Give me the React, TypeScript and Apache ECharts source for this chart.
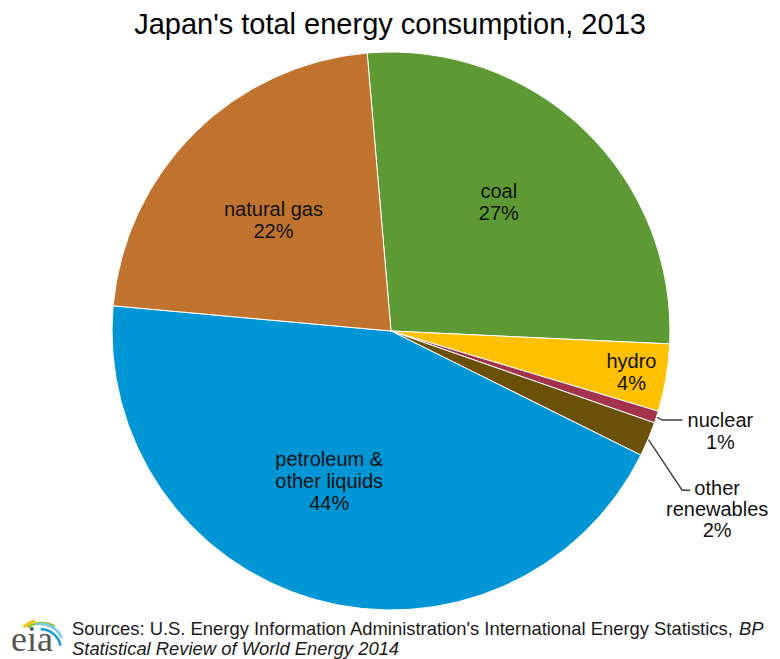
import { useEffect, useRef } from "react";
import * as echarts from "echarts";

// ---- data ----
const categories = ["coal", "hydro", "nuclear", "other renewables", "petroleum & other liquids", "natural gas"];
const labelTexts = ["coal", "hydro", "nuclear", "other\nrenewables", "petroleum &\nother liquids", "natural gas"];
const shares = [27.1, 3.9, 0.7, 2.0, 44.1, 22.2];
const colors = ["#5E9A33", "#FFC000", "#A3334A", "#6B500A", "#0096D6", "#BF732F"];
const titleText = "Japan's total energy consumption, 2013";
const sourceLine1 = "Sources: U.S. Energy Information Administration's International Energy Statistics, ";
const sourceLine1Italic = "BP";
const sourceLine2 = "Statistical Review of World Energy 2014";

// ---- layout ----
const CX = 391;
const CY = 331;
const R = 279;
const START = 94.9;
const OUTER = [2, 3];
// nudges for inside labels (dx, dy)
const insideNudge: Record<number, [number, number]> = {
  0: [9, -26],
  1: [100, 17],
  4: [-23, 13],
  5: [-17, -10],
};

const FONT = "'Liberation Sans', Arial, sans-serif";

export default function App() {
  const ref = useRef<HTMLDivElement>(null);
  useEffect(() => {
    document.body.style.margin = "0";
    if (!ref.current) return;
    const chart = echarts.init(ref.current, null, { renderer: "svg" });
    const option: any = {
      animation: false,
      backgroundColor: "#ffffff",
      title: {
        text: titleText,
        left: "center",
        top: 4,
        textStyle: { fontSize: 29, fontWeight: "normal", color: "#000", fontFamily: FONT },
      },
      series: [
        {
          type: "pie",
          center: [CX, CY],
          radius: R,
          startAngle: START,
          clockwise: true,
          silent: true,
          avoidLabelOverlap: false,
          emphasis: { disabled: true },
          itemStyle: { borderColor: "#ffffff", borderWidth: 1 },
          label: {
            show: true,
            position: "inside",
            formatter: (p: any) => `${labelTexts[p.dataIndex]}\n${Math.round(p.value)}%`,
            fontSize: 20,
            lineHeight: 22,
            color: "#111",
            fontFamily: FONT,
          },
          labelLine: { show: false },
          labelLayout: (params: any) => {
            const i = params.dataIndex;
            if (OUTER.indexOf(i) >= 0) {
              const pts = params.labelLinePoints;
              const p0 = pts && pts[0] ? pts[0] : [params.labelRect.x, params.labelRect.y];
              if (i === 2) {
                return {
                  x: p0[0] + 64,
                  y: p0[1] + 13.5,
                  align: "center",
                  verticalAlign: "middle",
                  labelLinePoints: [
                    [p0[0], p0[1]],
                    [p0[0] + 6, p0[1] + 3],
                    [p0[0] + 26, p0[1] + 3],
                  ],
                };
              }
              return {
                x: p0[0] + 69,
                y: p0[1] + 70,
                align: "center",
                verticalAlign: "middle",
                labelLinePoints: [
                  [p0[0], p0[1]],
                  [p0[0] + 34, p0[1] + 51],
                  [p0[0] + 42, p0[1] + 51],
                ],
              };
            }
            const n = insideNudge[i] || [0, 0];
            return { dx: n[0], dy: n[1] };
          },
          data: categories.map((name, i) => {
            const item: any = { name, value: shares[i], itemStyle: { color: colors[i] } };
            if (OUTER.indexOf(i) >= 0) {
              item.label = { position: "outside", lineHeight: i === 3 ? 21 : 22 };
              item.labelLine = {
                show: true,
                length: 5,
                length2: 20,
                lineStyle: { color: "#404040", width: 1.4 },
              };
            }
            return item;
          }),
        },
      ],
      graphic: [
        {
          type: "text",
          left: 72,
          top: 619,
          style: {
            text: `{n|${sourceLine1}}{i|${sourceLine1Italic}}\n{i|${sourceLine2}}`,
            rich: {
              n: { fontSize: 18.4, lineHeight: 20, fontFamily: FONT, fill: "#1a1a1a" },
              i: { fontSize: 18.4, lineHeight: 20, fontFamily: FONT, fontStyle: "italic", fill: "#1a1a1a" },
            },
          },
        },
        {
          type: "text",
          x: 11,
          y: 639,
          style: {
            text: "eia",
            fontSize: 36,
            lineHeight: 36,
            fontFamily: "'Liberation Serif', 'DejaVu Serif', serif",
            fill: "#555555",
            verticalAlign: "middle",
            align: "left",
          },
        },
        {
          type: "arc",
          shape: { cx: 42, cy: 648, r: 28, startAngle: (-132 * Math.PI) / 180, endAngle: (-104 * Math.PI) / 180, clockwise: true },
          style: { stroke: "#F3C300", lineWidth: 2.5, fill: "none" },
        },
        {
          type: "arc",
          shape: { cx: 42, cy: 650, r: 27, startAngle: (-122 * Math.PI) / 180, endAngle: (-62 * Math.PI) / 180, clockwise: true },
          style: { stroke: "#8CC540", lineWidth: 2.5, fill: "none" },
        },
        {
          type: "arc",
          shape: { cx: 40, cy: 648, r: 24, startAngle: (-98 * Math.PI) / 180, endAngle: (-25 * Math.PI) / 180, clockwise: true },
          style: { stroke: "#7FCCEF", lineWidth: 2.5, fill: "none" },
        },
        {
          type: "arc",
          shape: { cx: 40, cy: 650, r: 21, startAngle: (-88 * Math.PI) / 180, endAngle: (-12 * Math.PI) / 180, clockwise: true },
          style: { stroke: "#1A9AD6", lineWidth: 2.5, fill: "none" },
        },
      ],
    };
    chart.setOption(option);
    return () => chart.dispose();
  }, []);
  return (
    <div
      ref={ref}
      style={{ position: "absolute", left: 0, top: 0, width: 780, height: 659 }}
    />
  );
}
